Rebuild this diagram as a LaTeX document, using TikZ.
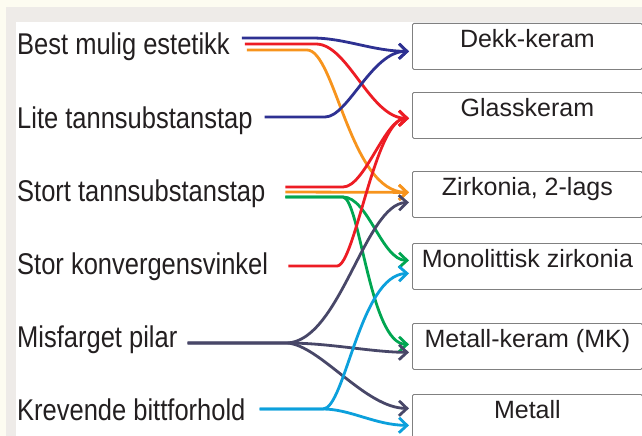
\documentclass[tikz,border=0pt]{standalone}
\usepackage{fontspec}
\setmainfont{Liberation Sans}
\newfontfamily\labelfont[FakeStretch=0.85]{Liberation Sans}
\usetikzlibrary{arrows.meta}

\definecolor{cream}{RGB}{253,252,241}
\definecolor{frame}{RGB}{238,235,232}
\definecolor{ink}{RGB}{35,31,32}
\definecolor{boxline}{RGB}{128,128,128}
\definecolor{navy}{RGB}{46,49,146}
\definecolor{cred}{RGB}{237,28,36}
\definecolor{corange}{RGB}{247,148,29}
\definecolor{cgreen}{RGB}{0,166,81}
\definecolor{slate}{RGB}{72,71,104}
\definecolor{sky}{RGB}{12,160,220}

\begin{document}
\begin{tikzpicture}[x=1pt,y=-1pt,
    lbl/.style={anchor=base west,inner sep=0pt,text=ink,font=\labelfont\fontsize{30}{32}\selectfont},
    box/.style={draw=boxline,line width=0.8pt,rounded corners=1.5pt,fill=white,anchor=north west,
      minimum width=230pt,inner sep=0pt,text height=24pt,text depth=22pt,text=ink,
      font=\fontsize{25}{28}\selectfont},
    link/.style={line width=2.8pt,-{Straight Barb[length=8pt,width=15pt]}}]

  \useasboundingbox (0,0) rectangle (642,436);
  \clip (0,0) rectangle (642,436);
  \fill[cream] (0,0) rectangle (642,436);
  \fill[frame] (6,7) rectangle (642,436);
  \fill[white] (16,22) rectangle (642,436);

  % criteria
  \node[lbl] (best)  at (17,55)  {Best mulig estetikk};
  \node[lbl] (lite)  at (17,128) {Lite tannsubstanstap};
  \node[lbl] (stort) at (17,201) {Stort tannsubstanstap};
  \node[lbl] (stor)  at (17,274) {Stor konvergensvinkel};
  \node[lbl] (mis)   at (17,347) {Misfarget pilar};
  \node[lbl] (krev)  at (17,420) {Krevende bittforhold};

  % materials
  \node[box] (dekk)   at (412,23)  {Dekk-keram};
  \node[box] (glass)  at (412,92)  {Glasskeram};
  \node[box] (zirk)   at (412,171) {Zirkonia, 2-lags};
  \node[box] (mono)   at (412,243) {Monolittisk zirkonia};
  \node[box] (mk)     at (412,323) {Metall-keram (MK)};
  \node[box] (metall) at (412,394) {Metall};

  \draw[link,corange] ([shift={(17,-5)}]best.base east) -- (307,50)
    .. controls (335,50) and (350,192) .. ([shift={(-3,-2)}]zirk.west);
  \draw[link,cred] ([shift={(15,-11)}]best.base east) -- (316,44)
    .. controls (348,44) and (370,118) .. ([shift={(-3,3)}]glass.west);
  \draw[link,navy] ([shift={(12,-17)}]best.base east) -- (312,38)
    .. controls (345,38) and (372,51) .. ([shift={(-3,5)}]dekk.west);
  \draw[link,navy] ([shift={(12,-11)}]lite.base east) -- (325,117)
    .. controls (348,117) and (372,51) .. ([shift={(-3,5)}]dekk.west);

  \draw[link,cgreen] ([shift={(20,-4)}]stort.base east) -- (343,197)
    .. controls (368,197) and (382,260) .. ([shift={(-3,-6)}]mono.west);
  \draw[link,cgreen] ([shift={(20,-4)}]stort.base east) -- (343,197)
    .. controls (360,199) and (370,344) .. ([shift={(-3,-2)}]mk.west);
  \draw[link,corange] ([shift={(20,-9)}]stort.base east) -- ([shift={(-3,-2)}]zirk.west);
  \draw[link,cred] ([shift={(20,-14)}]stort.base east) -- (343,187)
    .. controls (365,187) and (385,118) .. ([shift={(-3,3)}]glass.west);
  \draw[link,cred] ([shift={(20,-8)}]stor.base east) -- (337,266)
    .. controls (355,266) and (375,118) .. ([shift={(-3,3)}]glass.west);

  \draw[link,slate] ([shift={(10,-4)}]mis.base east) -- (287,343)
    .. controls (340,341) and (365,204) .. ([shift={(-3,8)}]zirk.west);
  \draw[link,slate] ([shift={(10,-4)}]mis.base east) -- (287,343)
    .. controls (330,343) and (370,352) .. ([shift={(-3,6)}]mk.west);
  \draw[link,slate] ([shift={(10,-4)}]mis.base east) -- (287,343)
    .. controls (320,345) and (365,408) .. ([shift={(-3,-9)}]metall.west);

  \draw[link,sky] ([shift={(14,-11)}]krev.base east) -- (323,409)
    .. controls (345,409) and (360,275) .. ([shift={(-3,7)}]mono.west);
  \draw[link,sky] ([shift={(14,-11)}]krev.base east) -- (323,409)
    .. controls (350,409) and (375,425) .. ([shift={(-3,8)}]metall.west);
\end{tikzpicture}
\end{document}
